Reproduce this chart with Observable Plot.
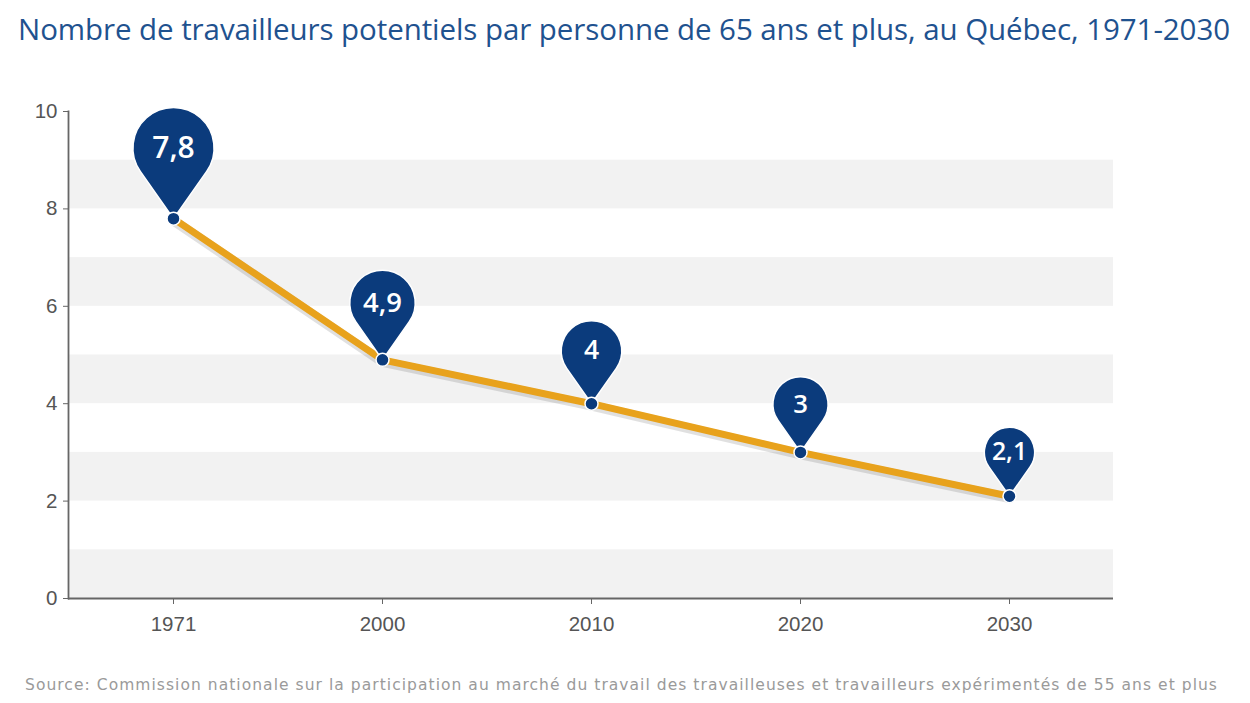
<!DOCTYPE html>
<html><head><meta charset="utf-8">
<script src="https://cdn.jsdelivr.net/npm/d3@7"></script>
<script src="https://cdn.jsdelivr.net/npm/@observablehq/plot@0.6"></script>
<style>
html,body{margin:0;padding:0;background:#fff;width:1250px;height:703px;overflow:hidden;position:relative}
#title{position:absolute;left:18px;top:8px;font-family:"Open Sans",sans-serif;font-size:29.5px;color:#1f528f;white-space:nowrap}
#chart{position:absolute;left:0;top:60px}
#caption{position:absolute;left:25px;top:676px;font-family:"DejaVu Sans",sans-serif;font-size:15.5px;color:#9a9a9a;white-space:nowrap}
</style></head>
<body>
<div id="title">Nombre de travailleurs potentiels par personne de 65 ans et plus, au Québec, 1971-2030</div>
<div id="chart"></div>
<div id="caption">Source: Commission nationale sur la participation au marché du travail des travailleuses et travailleurs expérimentés de 55 ans et plus</div>
<script>
const years = ["1971", "2000", "2010", "2020", "2030"];
const values = [7.8, 4.9, 4, 3, 2.1];
const labels = ["7,8", "4,9", "4", "3", "2,1"];
const yTicks = [0, 2, 4, 6, 8, 10];
const bandStarts = [0, 2, 4, 6, 8];

const data = years.map((y, i) => ({year: y, value: values[i], label: labels[i]}));
const bands = bandStarts.map(b => ({y1: b, y2: b + 1}));

const W = 1250, H = 600, mT = 51, mB = 62, mL = 68, mR = 137;
const rDomain = [0, 10], rRange = [19.5, 46.5];
const rLin = d3.scaleLinear(rDomain, rRange);
const pxPerUnit = (H - mT - mB) / 10;
const HK = 1.74; // head center distance / radius

const pin = {
  draw(ctx, size) {
    const R = Math.sqrt(size / Math.PI);
    const h = HK * R;
    const th = Math.acos(R / h);
    const a1 = Math.PI / 2 - th, a2 = Math.PI / 2 + th;
    ctx.moveTo(0, 0);
    ctx.lineTo(R * Math.cos(a1), -h + R * Math.sin(a1));
    ctx.arc(0, -h, R, a1, a2, true);
    ctx.closePath();
  }
};

const chart = Plot.plot({
  width: W, height: H,
  marginTop: mT, marginBottom: mB, marginLeft: mL, marginRight: mR,
  style: {fontFamily: "Liberation Sans, Arial, sans-serif", fontSize: "20.5px", color: "#555", background: "transparent"},
  x: {type: "point", domain: years, padding: 0.5, label: null},
  y: {domain: [0, 10], label: null},
  r: {type: "linear", domain: rDomain, range: rRange},
  marks: [
    Plot.rect(bands, {y1: "y1", y2: "y2", fill: "#f2f2f2"}),
    Plot.axisY({ticks: yTicks, tickSize: 5, tickPadding: 6, stroke: "#666", fill: "#555", fontSize: 20.5, label: null}),
    Plot.axisX({tickSize: 6, tickPadding: 12, stroke: "#666", fill: "#555", fontSize: 20.5, label: null}),
    Plot.frame({anchor: "left", stroke: "#666", strokeWidth: 1.8}),
    Plot.ruleY([0], {stroke: "#666", strokeWidth: 1.8}),
    Plot.line(data, {x: "year", y: "value", stroke: "#000", strokeOpacity: 0.12, strokeWidth: 10, dy: 2}),
    Plot.line(data, {x: "year", y: "value", stroke: "#e8a21c", strokeWidth: 7}),
    Plot.dot(data, {x: "year", y: "value", r: "value", symbol: pin, fill: "#0b3b7c", stroke: "#fff", strokeWidth: 1.5}),
    Plot.dot(data, {x: "year", y: "value", r: 6.5, fill: "#0b3b7c", stroke: "#fff", strokeWidth: 1.5}),
    Plot.text(data, {x: "year", y: d => d.value + HK * rLin(d.value) / pxPerUnit, text: "label",
      fill: "#fff", fontSize: d => 23 + 0.9 * d.value, fontWeight: 600, fontFamily: "Open Sans"})
  ]
});
document.getElementById("chart").appendChild(chart);

// stretch title/caption to the reference's text widths
function fit(id, target) {
  const el = document.getElementById(id);
  const n = el.textContent.length;
  const w = el.getBoundingClientRect().width;
  el.style.letterSpacing = ((target - w) / n) + "px";
}
fit("title", 1212);
fit("caption", 1193);
</script>
</body></html>
